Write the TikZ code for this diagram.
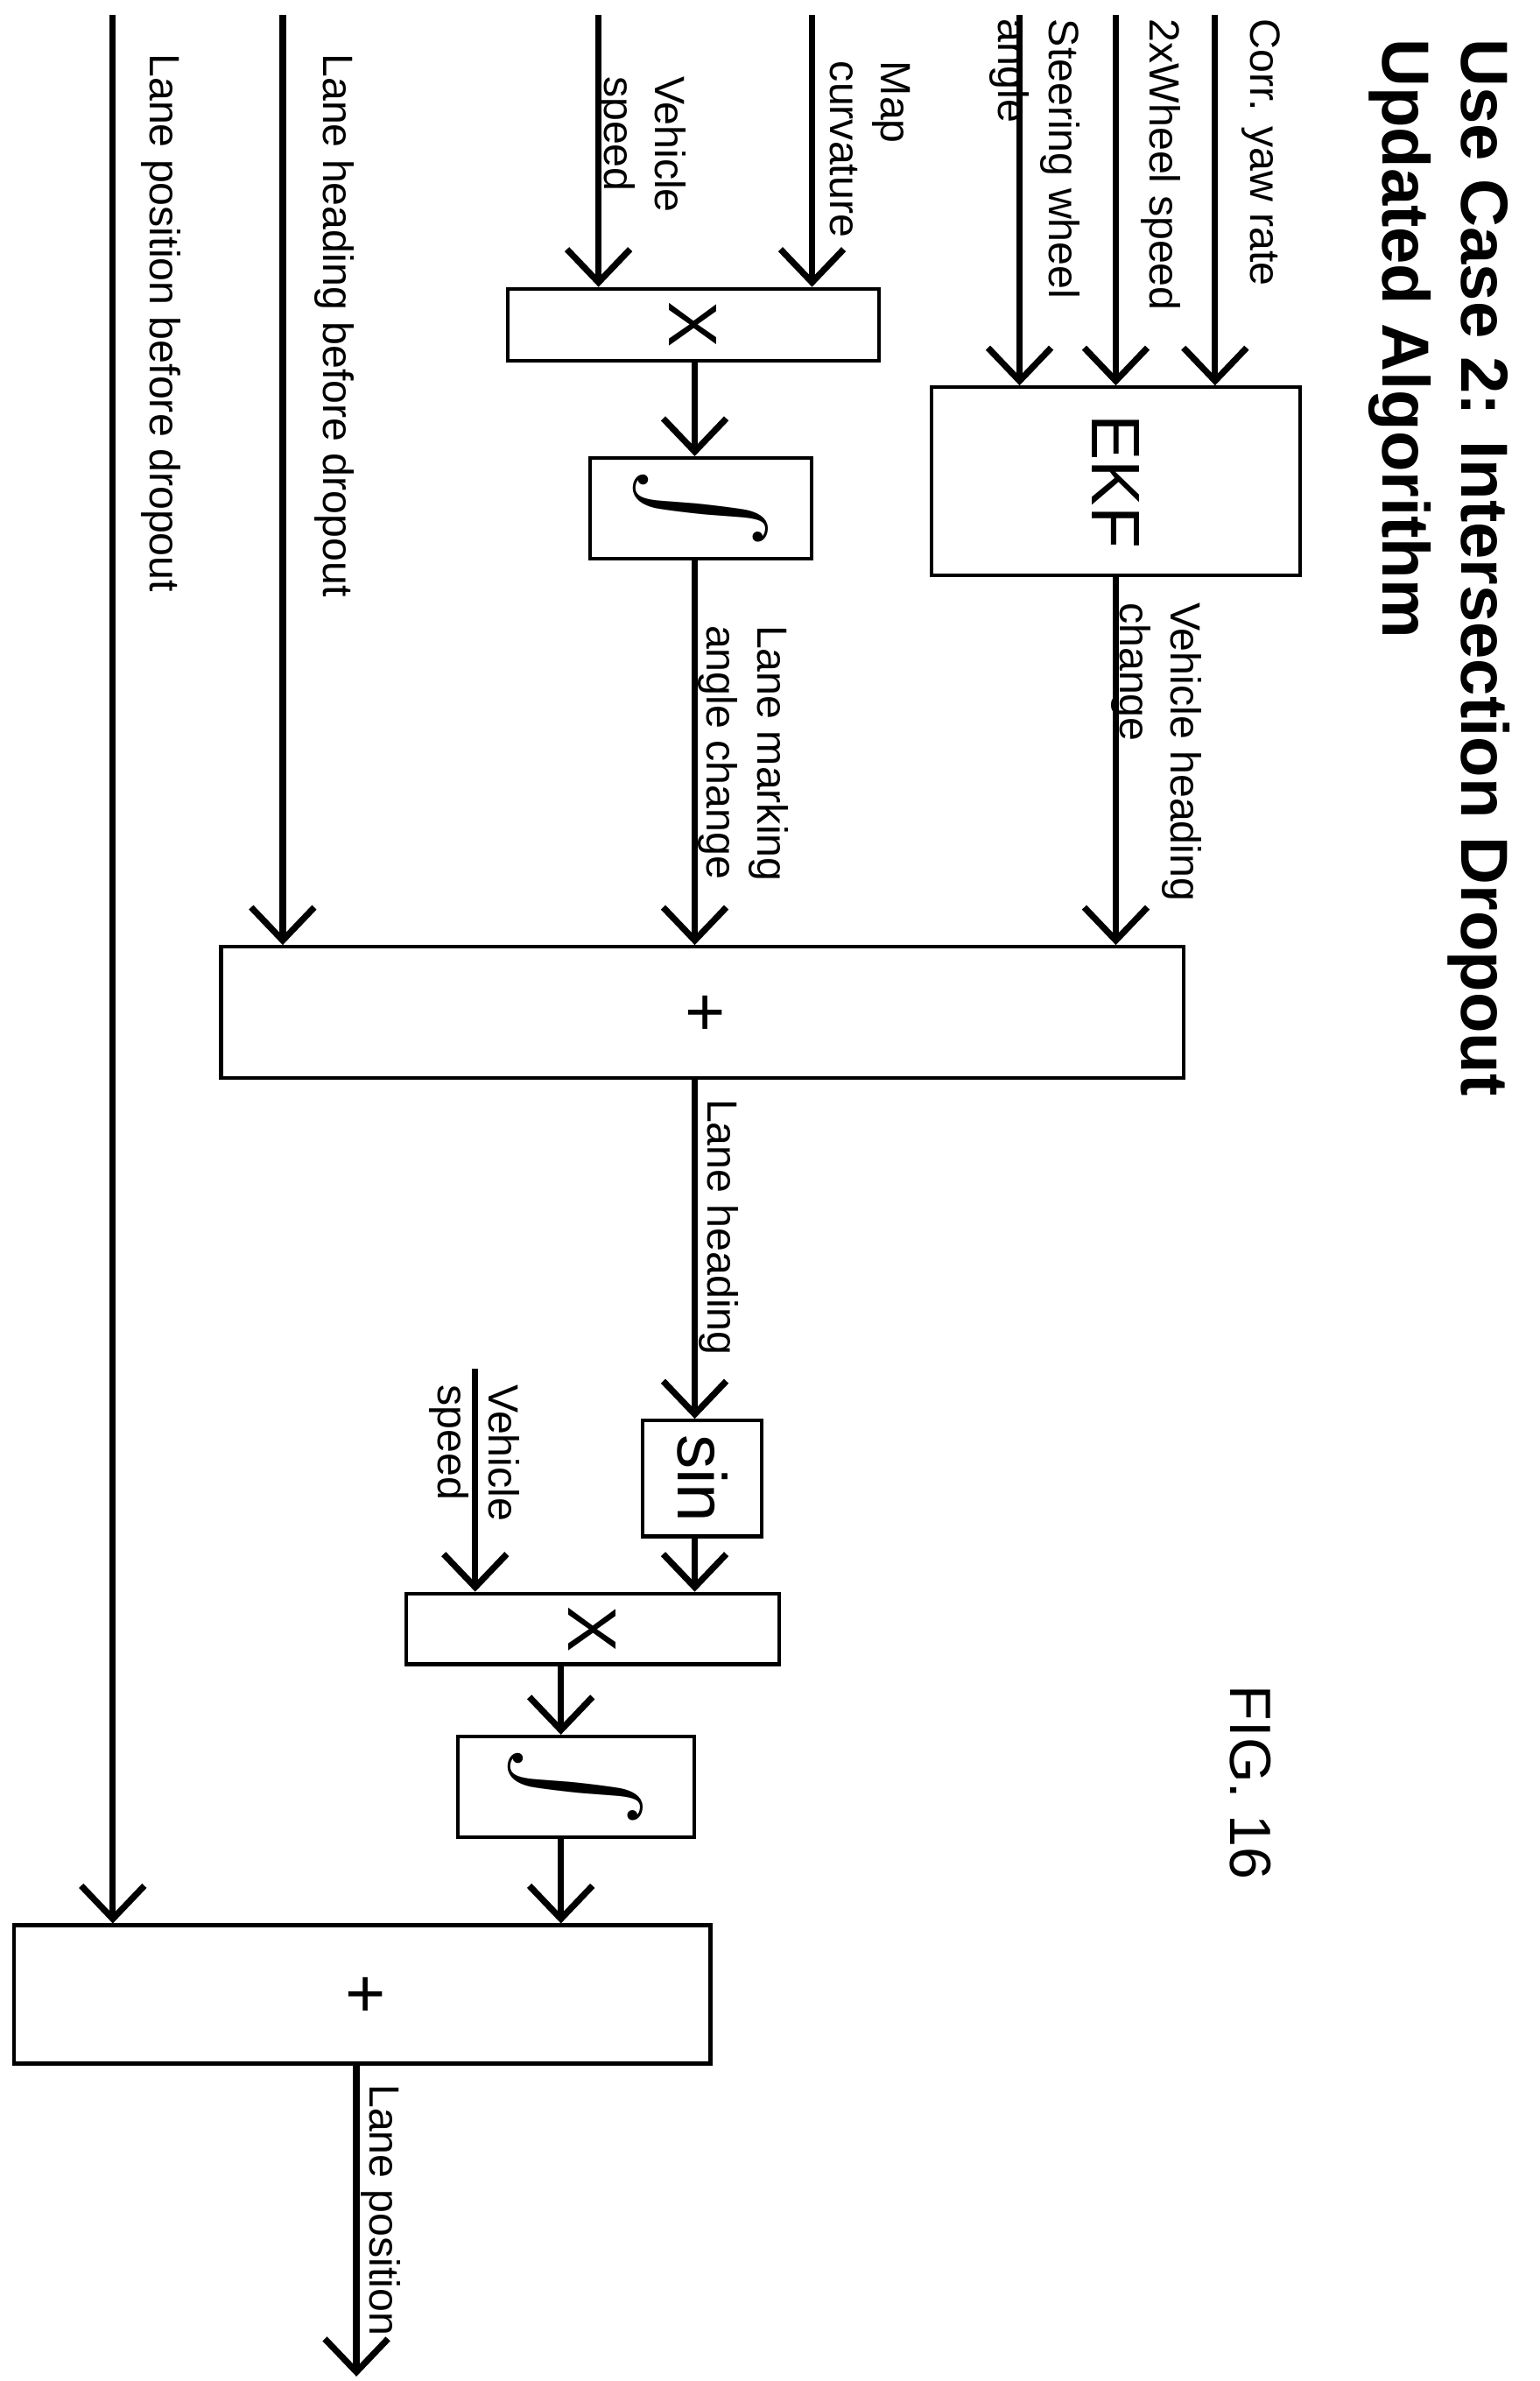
\documentclass[tikz,border=0pt]{standalone}
\usepackage{fontspec}
\setmainfont{Liberation Sans}
\usetikzlibrary{arrows.meta}

\tikzset{
  arr/.style={line width=1.2pt,-{Straight Barb[length=2.2mm,width=4.2mm,line width=1.2pt]}},
  blk/.style={draw,line width=0.7pt,inner sep=0,font=\fontsize{13}{15}\selectfont},
  lbl/.style={rotate=-90,inner sep=0,align=left,font=\fontsize{8}{9.6}\selectfont},
}

\begin{document}
\begin{tikzpicture}[x=0.1mm,y=-0.1mm]
  \useasboundingbox (0,0) rectangle (1024,1583);
  % title
  \node[lbl,anchor=north west,font=\fontsize{12.6}{15}\bfseries] at (1005,25)
    {Use Case 2: Intersection Dropout\\Updated Algorithm};
  \node[lbl,anchor=north west,font=\fontsize{11}{13}\selectfont] at (846,1120) {FIG. 16};

  % blocks
  \node[blk,minimum width=24.5mm,minimum height=12.5mm] (ekf) at (742,320) {\rotatebox{-90}{EKF}};
  \node[blk,minimum width=24.7mm,minimum height=4.8mm] (mul1) at (461,216) {\rotatebox{-90}{X}};
  \node[blk,minimum width=14.7mm,minimum height=6.7mm] (int1) at (466,338) {\rotatebox{-90}{\scalebox{2.3}{$\int$}}};
  \node[blk,minimum width=64mm,minimum height=8.7mm] (sum1) at (467,673) {\rotatebox{-90}{+}};
  \node[blk,minimum width=7.9mm,minimum height=7.7mm] (sin) at (467,983) {\rotatebox{-90}{sin}};
  \node[blk,minimum width=24.8mm,minimum height=4.7mm] (mul2) at (394,1083) {\rotatebox{-90}{X}};
  \node[blk,minimum width=15.7mm,minimum height=6.7mm] (int2) at (383,1188) {\rotatebox{-90}{\scalebox{2.3}{$\int$}}};
  \node[blk,minimum width=46.3mm,minimum height=9.2mm] (sum2) at (241,1326) {\rotatebox{-90}{+}};

  % inputs
  \coordinate (yaw) at (808,10);
  \coordinate (whl) at (742,10);
  \coordinate (str) at (678,10);
  \coordinate (map) at (540,10);
  \coordinate (spd) at (398,10);
  \coordinate (hdg) at (188,10);
  \coordinate (pos) at (75,10);
  \coordinate (spdb) at (316,910);
  \coordinate (out) at (237,1580);

  \draw[arr] (yaw) -- (yaw |- ekf.north);
  \draw[arr] (whl) -- (whl |- ekf.north);
  \draw[arr] (str) -- (str |- ekf.north);
  \draw[arr] (map) -- (map |- mul1.north);
  \draw[arr] (spd) -- (spd |- mul1.north);
  \draw[arr] (hdg) -- (hdg |- sum1.north);
  \draw[arr] (pos) -- (pos |- sum2.north);
  \draw[arr] (whl |- ekf.south) -- (whl |- sum1.north);
  \draw[arr] (462,0 |- mul1.south) -- (462,0 |- int1.north);
  \draw[arr] (462,0 |- int1.south) -- (462,0 |- sum1.north);
  \draw[arr] (462,0 |- sum1.south) -- (462,0 |- sin.north);
  \draw[arr] (462,0 |- sin.south) -- (462,0 |- mul2.north);
  \draw[arr] (spdb) -- (spdb |- mul2.north);
  \draw[arr] (373,0 |- mul2.south) -- (373,0 |- int2.north);
  \draw[arr] (373,0 |- int2.south) -- (373,0 |- sum2.north);
  \draw[arr] (out |- sum2.south) -- (out);

  % labels
  \node[lbl,anchor=north west] at (852,12) {Corr. yaw rate};
  \node[lbl,anchor=north west] at (786,12) {2xWheel speed};
  \node[lbl,anchor=north west] at (719,12) {Steering wheel\\angle};
  \node[lbl,anchor=north west] at (606,40) {Map\\curvature};
  \node[lbl,anchor=north west] at (457,50) {Vehicle\\speed};
  \node[lbl,anchor=north west] at (236,35) {Lane heading before dropout};
  \node[lbl,anchor=north west] at (121,35) {Lane position before dropout};
  \node[lbl,anchor=north west] at (800,400) {Vehicle heading\\change};
  \node[lbl,anchor=north west] at (525,415) {Lane marking\\angle change};
  \node[lbl,anchor=north west] at (492,730) {Lane heading};
  \node[lbl,anchor=north west] at (346,920) {Vehicle\\speed};
  \node[lbl,anchor=north west] at (267,1385) {Lane position};
\end{tikzpicture}
\end{document}
